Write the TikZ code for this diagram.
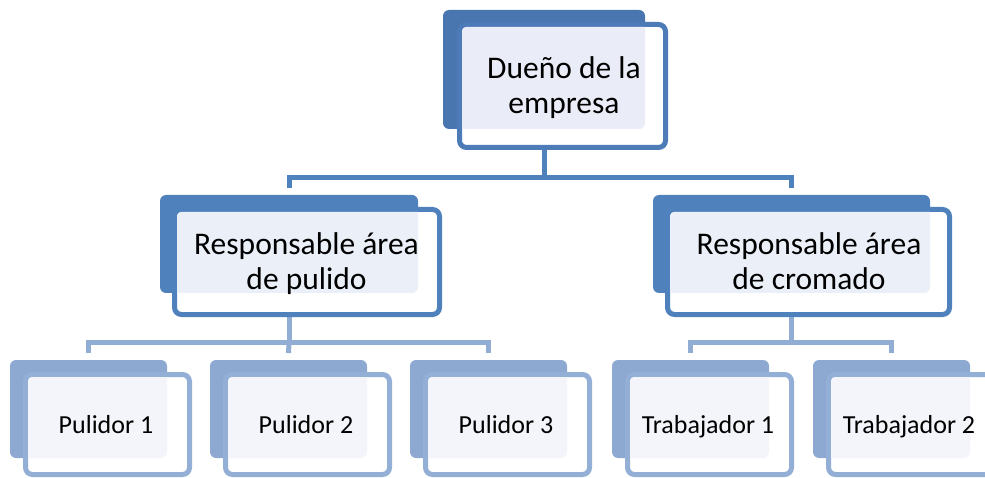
\documentclass[tikz,border=0pt]{standalone}
\usepackage{fontspec}
\setmainfont{Carlito}
\definecolor{lOneBack}{HTML}{4A76B0}
\definecolor{lOneLine}{HTML}{4C7BB7}
\definecolor{lOneLight}{HTML}{EAEDF7}
\definecolor{lTwoBack}{HTML}{4F81BD}
\definecolor{lTwoLine}{HTML}{4F81BD}
\definecolor{lTwoLight}{HTML}{EAEFF8}
\definecolor{lThreeBack}{HTML}{8EA9D1}
\definecolor{lThreeLine}{HTML}{93AFD5}
\definecolor{lThreeLight}{HTML}{F3F5FA}
\definecolor{connA}{HTML}{4F81BD}
\definecolor{connB}{HTML}{91ADD4}
\pgfdeclarelayer{bg}
\pgfsetlayers{bg,main}
\tikzset{
  backbox/.style={rounded corners=6pt, inner sep=0pt, outer sep=0pt},
  frontbox/.style={rounded corners=7pt, inner sep=0pt, outer sep=0pt, line width=5pt, fill=white},
  LAback/.style={fill=lOneBack}, LAfront/.style={draw=lOneLine}, LAlight/.style={fill=lOneLight},
  LBback/.style={fill=lTwoBack}, LBfront/.style={draw=lTwoLine}, LBlight/.style={fill=lTwoLight},
  LCback/.style={fill=lThreeBack}, LCfront/.style={draw=lThreeLine}, LClight/.style={fill=lThreeLight},
  bigtxt/.style={font=\fontsize{31.5}{35}\selectfont, align=center, inner sep=0pt, anchor=base},
  smalltxt/.style={font=\fontsize{26}{30}\selectfont, inner sep=0pt, anchor=base},
  connone/.style={draw=connA, line width=5pt},
  conntwo/.style={draw=connB, line width=5pt}
}
% #1 name, #2 level, #3 back centre, #4 back w, #5 back h, #6 front centre, #7 front w, #8 front h
\newcommand\orgunit[8]{%
  \node[backbox, #2back, minimum width=#4pt, minimum height=#5pt] (#1b) at (#3) {};
  \node[frontbox, #2front, minimum width=#7pt, minimum height=#8pt] (#1f) at (#6) {};
  \begin{scope}
    \clip[rounded corners=6pt] (#1b.south west) rectangle (#1b.north east);
    \fill[#2light, rounded corners=4pt] ([shift={(2.5,2.5)}]#1f.north west) rectangle ([shift={(-2.5,-2.5)}]#1f.south east);
  \end{scope}
}
\begin{document}
\begin{tikzpicture}[x=1pt, y=-1pt]
\useasboundingbox (0,0) rectangle (985,478);

\orgunit{top}{LA}{544,69.5}{202}{119}{562.5,86}{206}{123}
\orgunit{pul}{LB}{289,244}{258}{98}{307,262}{265}{105}
\orgunit{cro}{LB}{791.5,244}{277}{98}{808.5,262}{282}{105}
\orgunit{pa}{LC}{88.5,409}{157}{98}{107.5,424.5}{164}{100}
\orgunit{pb}{LC}{288.5,409}{157}{98}{307.5,424.5}{164}{100}
\orgunit{pc}{LC}{488.5,409}{157}{98}{507.5,424.5}{164}{100}
\orgunit{ta}{LC}{690.5,409}{157}{98}{709.5,424.5}{164}{100}
\orgunit{tb}{LC}{891.5,409}{157}{98}{910.5,424.5}{164}{100}

\node[bigtxt] (ttop) at (564,113.5) {Dueño de la\\empresa};
\node[bigtxt] (tpul) at (306.5,290) {Responsable área\\de pulido};
\node[bigtxt] (tcro) at (809,290) {Responsable área\\de cromado};
\node[smalltxt] (tpa) at (106,433) {Pulidor 1};
\node[smalltxt] (tpb) at (306,433) {Pulidor 2};
\node[smalltxt] (tpc) at (506,433) {Pulidor 3};
\node[smalltxt] (tta) at (708,433) {Trabajador 1};
\node[smalltxt] (ttb) at (909,433) {Trabajador 2};

\begin{pgfonlayer}{bg}
  \coordinate (hA) at (topb.south |- 0,177.5);
  \draw[connone] (topb.south) -- (hA);
  \draw[connone] ([yshift=7pt]pulb.north) |- (hA) -| ([yshift=7pt]crob.north);
  \coordinate (hB) at (pulb.south |- 0,342.5);
  \draw[conntwo] (pulb.south) -- (hB);
  \draw[conntwo] ([yshift=7pt]pab.north) |- (hB) -| ([yshift=7pt]pcb.north);
  \draw[conntwo] (hB) -- ([yshift=7pt]pbb.north);
  \coordinate (hC) at (crob.south |- 0,342.5);
  \draw[conntwo] (crob.south) -- (hC);
  \draw[conntwo] ([yshift=7pt]tab.north) |- (hC) -| ([yshift=7pt]tbb.north);
\end{pgfonlayer}
\end{tikzpicture}
\end{document}
